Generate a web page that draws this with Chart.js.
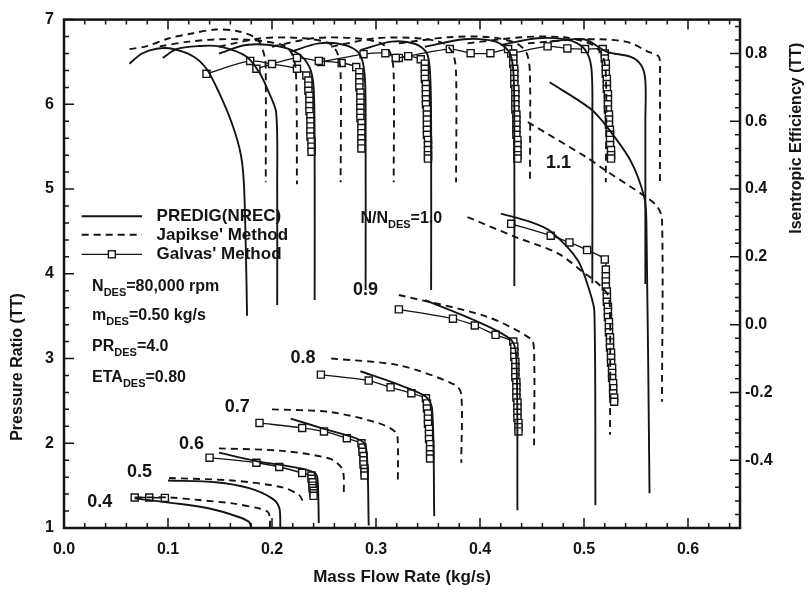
<!DOCTYPE html>
<html>
<head>
<meta charset="utf-8">
<title>Compressor map</title>
<script src="https://cdn.jsdelivr.net/npm/chart.js@4.4.1/dist/chart.umd.min.js"></script>
<style>
  html, body { margin: 0; padding: 0; background: #fff; }
  #wrap { width: 808px; height: 596px; }
</style>
</head>
<body>
<div id="wrap"><canvas id="map" width="808" height="596"></canvas></div>
<script>
// speed lines N/Ndes
const speeds = ['0.4', '0.5', '0.6', '0.7', '0.8', '0.9', '1.0', '1.1'];

// pressure ratio vs mass flow, PREDIG (NREC)  [kg/s, PR]
const predigPR = [
  [[0.068,1.35],[0.101,1.30],[0.140,1.23],[0.168,1.13],[0.178,1.07],[0.180,1.00]],
  [[0.100,1.56],[0.146,1.54],[0.178,1.47],[0.200,1.35],[0.207,1.24],[0.208,1.01]],
  [[0.149,1.89],[0.185,1.79],[0.229,1.70],[0.242,1.64],[0.244,1.55],[0.245,1.06]],
  [[0.218,2.29],[0.250,2.17],[0.286,2.03],[0.291,1.90],[0.293,1.03]],
  [[0.285,2.85],[0.320,2.70],[0.348,2.55],[0.354,2.40],[0.356,1.14]],
  [[0.347,3.69],[0.395,3.45],[0.430,3.22],[0.435,3.00],[0.436,1.21]],
  [[0.420,4.71],[0.449,4.61],[0.468,4.50],[0.494,4.16],[0.506,3.77],[0.510,3.55],[0.511,1.27]],
  [[0.467,6.26],[0.506,5.95],[0.523,5.72],[0.545,5.33],[0.558,4.90],[0.560,4.60],[0.563,1.41]]
];

// pressure ratio, Japikse' method
const japiksePR = [
  [[0.068,1.36],[0.101,1.36],[0.130,1.33],[0.162,1.29],[0.188,1.23],[0.196,1.19],[0.198,1.12],[0.198,1.01]],
  [[0.101,1.59],[0.162,1.56],[0.210,1.48],[0.226,1.39],[0.229,1.33],[0.229,1.29]],
  [[0.149,1.94],[0.210,1.91],[0.255,1.82],[0.267,1.71],[0.269,1.60],[0.269,1.41]],
  [[0.200,2.40],[0.255,2.37],[0.302,2.24],[0.319,2.13],[0.321,2.00],[0.321,1.52]],
  [[0.257,3.00],[0.322,2.92],[0.376,2.69],[0.382,2.58],[0.382,1.77]],
  [[0.322,3.75],[0.405,3.50],[0.449,3.23],[0.452,3.08],[0.452,1.97]],
  [[0.388,4.67],[0.433,4.44],[0.475,4.24],[0.500,4.01],[0.512,3.90],[0.523,3.75],[0.525,3.55],[0.525,2.10]],
  [[0.446,5.79],[0.503,5.37],[0.522,5.21],[0.558,4.92],[0.570,4.80],[0.575,4.65],[0.575,2.49]]
];

// pressure ratio, Galvas' method (no points at 0.5 and 1.1)
const galvasPRSpeeds = ['0.4', '0.6', '0.7', '0.8', '0.9', '1.0'];
const galvasPR = [
  [[0.068,1.36],[0.082,1.36],[0.097,1.355]],
  [[0.140,1.83],[0.185,1.77],[0.207,1.72],[0.229,1.65],[0.238,1.62],[0.238,1.58],[0.239,1.54],[0.239,1.50],
   [0.239,1.47],[0.240,1.44],[0.240,1.41],[0.240,1.38]],
  [[0.188,2.24],[0.229,2.18],[0.250,2.14],[0.272,2.06],[0.286,2.00],[0.287,1.95],[0.287,1.90],[0.288,1.85],
   [0.288,1.80],[0.288,1.75],[0.289,1.70],[0.289,1.66],[0.289,1.62]],
  [[0.247,2.81],[0.293,2.74],[0.314,2.66],[0.334,2.59],[0.348,2.53],[0.349,2.47],[0.349,2.41],[0.350,2.35],
   [0.350,2.29],[0.350,2.23],[0.351,2.17],[0.351,2.11],[0.351,2.05],[0.352,1.99],[0.352,1.93],[0.352,1.87],[0.352,1.82]],
  [[0.322,3.58],[0.374,3.47],[0.395,3.39],[0.415,3.28],[0.432,3.20],[0.433,3.14],[0.433,3.08],[0.433,3.02],
   [0.434,2.96],[0.434,2.90],[0.434,2.84],[0.434,2.78],[0.435,2.72],[0.435,2.66],[0.435,2.60],[0.435,2.54],
   [0.436,2.48],[0.436,2.42],[0.436,2.36],[0.436,2.30],[0.437,2.24],[0.437,2.19],[0.437,2.14]],
  [[0.430,4.59],[0.468,4.45],[0.486,4.37],[0.503,4.28],[0.520,4.17],[0.521,4.05],[0.521,3.97],[0.521,3.91],
   [0.521,3.85],[0.522,3.79],[0.522,3.73],[0.522,3.67],[0.523,3.61],[0.523,3.55],[0.523,3.49],[0.524,3.43],
   [0.524,3.37],[0.524,3.31],[0.525,3.25],[0.525,3.19],[0.525,3.13],[0.526,3.07],[0.526,3.01],[0.526,2.95],
   [0.527,2.89],[0.527,2.83],[0.527,2.77],[0.528,2.71],[0.528,2.65],[0.528,2.59],[0.529,2.54],[0.529,2.49]]
];

// isentropic efficiency vs mass flow, PREDIG (NREC)
const predigEff = [
  [[0.063,0.770],[0.075,0.800],[0.089,0.814],[0.104,0.814],[0.124,0.792],[0.137,0.755],[0.149,0.685],
   [0.162,0.589],[0.170,0.502],[0.173,0.415],[0.175,0.200],[0.176,0.026]],
  [[0.095,0.787],[0.108,0.813],[0.130,0.822],[0.149,0.821],[0.175,0.792],[0.188,0.743],[0.197,0.685],
   [0.204,0.626],[0.205,0.414],[0.205,0.058]],
  [[0.149,0.800],[0.175,0.825],[0.205,0.822],[0.225,0.800],[0.236,0.760],[0.240,0.700],[0.241,0.500],[0.241,0.073]],
  [[0.218,0.805],[0.245,0.830],[0.270,0.825],[0.284,0.800],[0.289,0.740],[0.290,0.600],[0.290,0.102]],
  [[0.285,0.810],[0.315,0.835],[0.338,0.828],[0.349,0.800],[0.352,0.740],[0.353,0.600],[0.353,0.102]],
  [[0.347,0.820],[0.385,0.842],[0.415,0.835],[0.428,0.805],[0.432,0.750],[0.433,0.600],[0.433,0.114]],
  [[0.420,0.825],[0.455,0.845],[0.485,0.840],[0.500,0.815],[0.507,0.760],[0.508,0.600],[0.508,0.122]],
  [[0.467,0.835],[0.500,0.842],[0.522,0.805],[0.545,0.790],[0.555,0.765],[0.559,0.720],[0.559,0.600],[0.559,0.120]]
];

// isentropic efficiency, Japikse' method
const japikseEff = [
  [[0.063,0.813],[0.079,0.821],[0.101,0.845],[0.123,0.859],[0.146,0.871],[0.168,0.865],[0.186,0.842],
   [0.193,0.790],[0.194,0.743],[0.194,0.420]],
  [[0.092,0.821],[0.120,0.835],[0.150,0.842],[0.180,0.840],[0.210,0.825],[0.219,0.800],[0.223,0.745],[0.224,0.414]],
  [[0.149,0.820],[0.190,0.845],[0.230,0.845],[0.255,0.830],[0.263,0.800],[0.266,0.740],[0.266,0.420]],
  [[0.200,0.820],[0.240,0.845],[0.280,0.845],[0.305,0.830],[0.314,0.800],[0.317,0.740],[0.317,0.420]],
  [[0.257,0.820],[0.300,0.845],[0.340,0.845],[0.365,0.830],[0.374,0.800],[0.377,0.740],[0.377,0.420]],
  [[0.322,0.830],[0.370,0.848],[0.410,0.848],[0.435,0.830],[0.445,0.800],[0.448,0.740],[0.448,0.420]],
  [[0.388,0.830],[0.440,0.848],[0.480,0.848],[0.505,0.830],[0.517,0.800],[0.521,0.740],[0.521,0.420]],
  [[0.446,0.830],[0.500,0.842],[0.540,0.835],[0.562,0.805],[0.572,0.790],[0.573,0.740],[0.573,0.410]]
];

// isentropic efficiency, Galvas' method
const galvasEffSpeeds = ['0.6', '0.7', '0.8', '0.9', '1.0'];
const galvasEff = [
  [[0.137,0.740],[0.179,0.778],[0.200,0.769],[0.224,0.755],[0.233,0.735],[0.235,0.720],[0.235,0.705],
   [0.235,0.690],[0.236,0.675],[0.236,0.660],[0.236,0.645],[0.236,0.630],[0.237,0.615],[0.237,0.600],
   [0.237,0.585],[0.237,0.570],[0.237,0.555],[0.238,0.540],[0.238,0.525],[0.238,0.510]],
  [[0.185,0.755],[0.224,0.787],[0.245,0.778],[0.267,0.772],[0.281,0.760],[0.284,0.745],[0.284,0.730],
   [0.284,0.715],[0.284,0.700],[0.285,0.685],[0.285,0.670],[0.285,0.655],[0.285,0.640],[0.285,0.625],
   [0.285,0.610],[0.286,0.595],[0.286,0.580],[0.286,0.565],[0.286,0.550],[0.286,0.535],[0.286,0.520]],
  [[0.247,0.775],[0.288,0.798],[0.309,0.801],[0.319,0.787],[0.331,0.792],[0.343,0.783],[0.347,0.770],
   [0.347,0.755],[0.347,0.740],[0.347,0.725],[0.348,0.710],[0.348,0.695],[0.348,0.680],[0.348,0.665],
   [0.348,0.650],[0.349,0.635],[0.349,0.620],[0.349,0.605],[0.349,0.590],[0.349,0.575],[0.349,0.560],
   [0.350,0.545],[0.350,0.530],[0.350,0.515],[0.350,0.500],[0.350,0.490]],
  [[0.322,0.787],[0.371,0.813],[0.391,0.801],[0.410,0.801],[0.427,0.813],[0.432,0.800],[0.432,0.785],
   [0.432,0.770],[0.433,0.755],[0.433,0.740],[0.433,0.725],[0.433,0.710],[0.434,0.695],[0.434,0.680],
   [0.434,0.665],[0.434,0.650],[0.434,0.635],[0.435,0.620],[0.435,0.605],[0.435,0.590],[0.435,0.575],
   [0.435,0.560],[0.436,0.545],[0.436,0.530],[0.436,0.515],[0.436,0.500],[0.436,0.490]],
  [[0.430,0.800],[0.465,0.821],[0.484,0.815],[0.501,0.813],[0.518,0.813],[0.520,0.800],[0.520,0.785],
   [0.521,0.770],[0.521,0.755],[0.521,0.740],[0.522,0.725],[0.522,0.710],[0.522,0.695],[0.523,0.680],
   [0.523,0.665],[0.523,0.650],[0.523,0.635],[0.524,0.620],[0.524,0.605],[0.524,0.590],[0.525,0.575],
   [0.525,0.560],[0.525,0.545],[0.525,0.530],[0.526,0.515],[0.526,0.500],[0.526,0.490]]
];

// design point text
const designNotes = [
  ['N', 'DES', '=80,000 rpm'],
  ['m', 'DES', '=0.50 kg/s'],
  ['PR', 'DES', '=4.0'],
  ['ETA', 'DES', '=0.80']
];

const ink = '#141414';
const FONT = '"Liberation Sans", Arial, Helvetica, sans-serif';

const datasets = [];
function addCurves(list, axis, kind) {
  list.forEach(pts => {
    datasets.push({
      data: pts.map(([x, y]) => ({ x, y })),
      yAxisID: axis,
      showLine: true,
      borderColor: ink,
      borderWidth: kind === 'galvas' ? 1.3 : 1.9,
      borderDash: kind === 'japikse' ? [7, 5] : [],
      tension: 0.3,
      pointStyle: 'rect',
      pointRadius: kind === 'galvas' ? 5 : 0,
      pointBackgroundColor: '#fff',
      pointBorderColor: ink,
      pointBorderWidth: 1.4
    });
  });
}
addCurves(predigPR, 'y', 'predig');
addCurves(japiksePR, 'y', 'japikse');
addCurves(predigEff, 'y2', 'predig');
addCurves(japikseEff, 'y2', 'japikse');
addCurves(galvasPR, 'y', 'galvas');
addCurves(galvasEff, 'y2', 'galvas');

// text with a subscript part, drawn left to right
function subText(ctx, x0, base, main, sub, rest, size) {
  let cx = x0;
  ctx.font = 'bold ' + size + 'px ' + FONT; ctx.fillText(main, cx, base); cx += ctx.measureText(main).width;
  ctx.font = 'bold 11px ' + FONT; ctx.fillText(sub, cx, base + 5); cx += ctx.measureText(sub).width;
  ctx.font = 'bold ' + size + 'px ' + FONT; ctx.fillText(rest, cx, base);
}

// inward tick marks, frame, legend and labels
const decor = {
  id: 'decor',
  afterDatasetsDraw(chart) {
    const { ctx, chartArea: a } = chart;
    const { x, y, y2 } = chart.scales;
    ctx.save();
    ctx.strokeStyle = ink;
    ctx.fillStyle = ink;
    ctx.lineWidth = 1.5;
    ctx.beginPath();
    for (let i = 0; i <= 32; i++) {
      const px = x.getPixelForValue(i * 0.02), len = i % 5 ? 5 : 10;
      ctx.moveTo(px, a.bottom); ctx.lineTo(px, a.bottom - len);
      ctx.moveTo(px, a.top); ctx.lineTo(px, a.top + len);
    }
    for (let i = 0; i <= 30; i++) {
      const py = y.getPixelForValue(1 + i * 0.2), len = i % 5 ? 5 : 10;
      ctx.moveTo(a.left, py); ctx.lineTo(a.left + len, py);
    }
    for (let i = 0; i <= 37; i++) {
      const py = y2.getPixelForValue(-0.6 + i * 0.04), len = i % 5 ? 5 : 10;
      ctx.moveTo(a.right, py); ctx.lineTo(a.right - len, py);
    }
    ctx.stroke();
    ctx.lineWidth = 2.5;
    ctx.strokeRect(a.left, a.top, a.right - a.left, a.bottom - a.top);

    // legend
    const lx0 = x.getPixelForValue(0.017), lx1 = x.getPixelForValue(0.075), tx = x.getPixelForValue(0.089);
    const rows = [['PREDIG(NREC)', 4.68, 'predig'], ["Japikse' Method", 4.46, 'japikse'], ["Galvas' Method", 4.23, 'galvas']];
    ctx.textBaseline = 'middle';
    ctx.font = 'bold 17px ' + FONT;
    rows.forEach(([label, pr, kind]) => {
      const py = y.getPixelForValue(pr);
      ctx.lineWidth = kind === 'galvas' ? 1.3 : 1.9;
      ctx.setLineDash(kind === 'japikse' ? [7, 5] : []);
      ctx.beginPath(); ctx.moveTo(lx0, py); ctx.lineTo(lx1, py); ctx.stroke();
      ctx.setLineDash([]);
      if (kind === 'galvas') {
        const cx = (lx0 + lx1) / 2;
        ctx.fillStyle = '#fff';
        ctx.fillRect(cx - 3.5, py - 3.5, 7, 7);
        ctx.lineWidth = 1.4;
        ctx.strokeRect(cx - 3.5, py - 3.5, 7, 7);
        ctx.fillStyle = ink;
      }
      ctx.fillText(label, tx, py);
    });

    // design point notes
    ctx.textBaseline = 'alphabetic';
    const nx = x.getPixelForValue(0.027);
    [3.80, 3.45, 3.09, 2.72].forEach((pr, i) => {
      const [main, sub, rest] = designNotes[i];
      subText(ctx, nx, y.getPixelForValue(pr), main, sub, rest, 16);
    });

    // speed line labels
    ctx.textAlign = 'center';
    ctx.textBaseline = 'middle';
    ctx.font = 'bold 18px ' + FONT;
    const tags = [[0.0344, 1.303], [0.0727, 1.664], [0.1225, 1.990], [0.1665, 2.433], [0.2297, 3.004], [0.2900, 3.808], null, [0.4756, 5.311]];
    tags.forEach((t, i) => {
      if (t) ctx.fillText(speeds[i], x.getPixelForValue(t[0]), y.getPixelForValue(t[1]));
    });
    ctx.textAlign = 'left';
    ctx.textBaseline = 'alphabetic';
    subText(ctx, x.getPixelForValue(0.285), y.getPixelForValue(4.60), 'N/N', 'DES', '=' + speeds[6], 16);

    // side axis titles, both reading upwards
    ctx.textAlign = 'center';
    ctx.textBaseline = 'middle';
    ctx.font = 'bold 16px ' + FONT;
    ctx.save();
    ctx.translate(18, y.getPixelForValue(2.9));
    ctx.rotate(-Math.PI / 2);
    ctx.fillText('Pressure Ratio (TT)', 0, 0);
    ctx.restore();
    ctx.translate(797, y2.getPixelForValue(0.55));
    ctx.rotate(-Math.PI / 2);
    ctx.fillText('Isentropic Efficiency (TT)', 0, 0);
    ctx.restore();
  }
};

new Chart(document.getElementById('map'), {
  type: 'scatter',
  data: { datasets },
  plugins: [decor],
  options: {
    responsive: false,
    animation: false,
    layout: { padding: { top: 13, left: 0, right: 0, bottom: 0 } },
    plugins: { legend: { display: false }, tooltip: { enabled: false } },
    scales: {
      x: {
        type: 'linear', min: 0, max: 0.65,
        afterFit: s => { s.height = 68; },
        grid: { display: false, drawTicks: false },
        border: { display: false },
        ticks: { stepSize: 0.1, includeBounds: false, padding: 12, color: ink,
                 font: { family: FONT, size: 16, weight: 'bold' }, callback: v => v.toFixed(1) },
        title: { display: true, text: 'Mass Flow Rate (kg/s)', color: ink, padding: { top: 0, bottom: 8 },
                 font: { family: FONT, size: 17, weight: 'bold' } }
      },
      y: {
        type: 'linear', position: 'left', min: 1, max: 7,
        afterFit: s => { s.width = 64; },
        grid: { display: false, drawTicks: false },
        border: { display: false },
        ticks: { stepSize: 1, includeBounds: false, padding: 10, color: ink,
                 font: { family: FONT, size: 16, weight: 'bold' } }
      },
      y2: {
        type: 'linear', position: 'right', min: -0.6, max: 0.9,
        afterFit: s => { s.width = 68; },
        grid: { display: false, drawTicks: false },
        border: { display: false },
        ticks: { stepSize: 0.2, includeBounds: false, padding: 5, color: ink,
                 font: { family: FONT, size: 16, weight: 'bold' },
                 callback: v => Math.abs(v + 0.6) < 1e-6 ? '' : v.toFixed(1) }
      }
    }
  }
});
</script>
</body>
</html>
